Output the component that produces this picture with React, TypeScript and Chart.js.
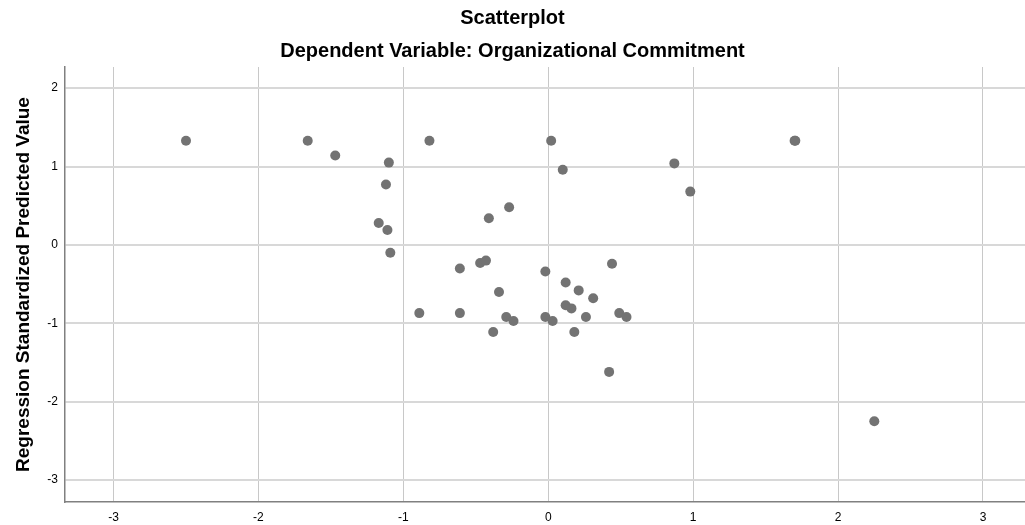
import React, { useEffect, useRef } from "react";
import { Chart, registerables } from "chart.js";

Chart.register(...registerables);

const titleText = "Scatterplot";
const subtitleText = "Dependent Variable: Organizational Commitment";
const yAxisLabel = "Regression Standardized Predicted Value";

const xTickValues = [-3, -2, -1, 0, 1, 2, 3];
const yTickValues = [-3, -2, -1, 0, 1, 2];

const regressionResidual = [
  -2.5, -1.66, -1.47, -1.1, -1.12, -1.17, -1.11, -1.09, -0.82, 0.02,
  0.1, -0.27, -0.41, -0.61, -0.47, -0.43, -0.34, -0.89, -0.61, -0.29,
  -0.24, -0.38, -0.02, 0.12, 0.21, 0.31, 0.12, 0.16, -0.02, 0.03,
  0.26, 0.49, 0.54, 0.44, 0.18, 0.42, 1.7, 1.705, 0.87, 0.98, 2.25,
];
const predictedValue = [
  1.33, 1.33, 1.14, 1.05, 0.77, 0.28, 0.19, -0.1, 1.33, 1.33,
  0.96, 0.48, 0.34, -0.3, -0.23, -0.2, -0.6, -0.87, -0.87, -0.92,
  -0.97, -1.11, -0.34, -0.48, -0.58, -0.68, -0.77, -0.81, -0.92, -0.97,
  -0.92, -0.87, -0.92, -0.24, -1.11, -1.62, 1.33, 1.33, 1.04, 0.68, -2.25,
];

const FONT = "'Liberation Sans', Arial, sans-serif";

export default function App() {
  const canvasRef = useRef<HTMLCanvasElement | null>(null);

  useEffect(() => {
    if (!canvasRef.current) return;
    const points = regressionResidual.map((x, i) => ({ x, y: predictedValue[i] }));
    const chart = new Chart(canvasRef.current, {
      type: "scatter",
      data: {
        datasets: [
          {
            data: points,
            backgroundColor: "#737373",
            borderWidth: 0,
            pointRadius: 5,
            pointHoverRadius: 5,
          },
        ],
      },
      options: {
        animation: false,
        responsive: false,
        maintainAspectRatio: false,
        layout: { padding: 0, autoPadding: false },
        plugins: {
          legend: { display: false },
          tooltip: { enabled: false },
          title: {
            display: true,
            text: titleText,
            color: "#000",
            font: { family: FONT, size: 20, weight: "bold" },
            padding: { top: 6, bottom: 9 },
          },
          subtitle: {
            display: true,
            text: subtitleText,
            color: "#000",
            font: { family: FONT, size: 20, weight: "bold" },
            padding: { top: 0, bottom: 4 },
          },
        },
        scales: {
          x: {
            type: "linear",
            min: -3.335,
            max: 3.29,
            afterBuildTicks: (s: any) => {
              s.ticks = xTickValues.map((v) => ({ value: v }));
            },
            afterFit: (s: any) => {
              s.height = 23;
            },
            ticks: {
              includeBounds: false,
              color: "#000",
              font: { family: FONT, size: 12 },
              padding: 8,
              maxRotation: 0,
            },
            grid: { color: "#c8c8c8", lineWidth: 1, drawTicks: false },
            border: { display: true, color: "#808080", width: 1.5 },
          },
          y: {
            type: "linear",
            min: -3.28,
            max: 2.27,
            afterBuildTicks: (s: any) => {
              s.ticks = yTickValues.map((v) => ({ value: v }));
            },
            afterFit: (s: any) => {
              s.width = 65;
            },
            ticks: {
              includeBounds: false,
              color: "#000",
              font: { family: FONT, size: 12 },
              padding: 7,
            },
            grid: { color: "#d8d8d8", lineWidth: 2, drawTicks: false },
            border: { display: true, color: "#808080", width: 1.5 },
            title: {
              display: true,
              text: yAxisLabel,
              color: "#000",
              font: { family: FONT, size: 19, weight: "bold" },
              padding: { top: 12, bottom: 0 },
            },
          },
        },
      },
    });
    return () => chart.destroy();
  }, []);

  return (
    <div style={{ position: "fixed", left: 0, top: 0, width: 1025, height: 525, background: "#fff" }}>
      <canvas ref={canvasRef} width={1025} height={525} style={{ display: "block" }} />
    </div>
  );
}
